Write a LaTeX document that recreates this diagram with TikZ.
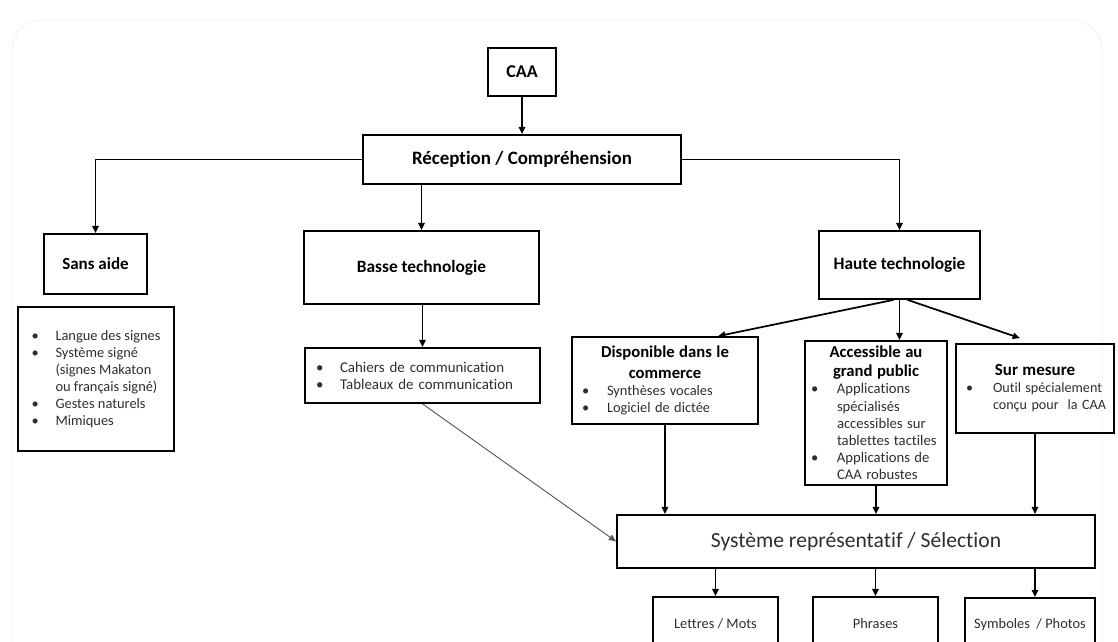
\documentclass[tikz,border=0pt]{standalone}
\usepackage{fontspec}
\setmainfont[Ligatures=NoCommon]{Carlito}
\usetikzlibrary{arrows.meta,calc}
\newcommand\bl[2][18pt]{\makebox[#1][l]{\textbullet}\mbox{#2}}
\newcommand\cl[2][18pt]{\hspace*{#1}\mbox{#2}}
\begin{document}
\begin{tikzpicture}[x=0.75pt,y=-0.75pt,
  box/.style={draw, line width=1.3pt, inner sep=0pt, text=black!82},
  ttl/.style={font=\bfseries\fontsize{13}{15.5}\selectfont, text=black},
  bul/.style={font=\fontsize{10.8}{12.75}\selectfont},
  arr/.style={line width=1.3pt, -{Triangle[length=5.5pt,width=4.8pt]}},
  thinarr/.style={line width=0.7pt, draw=black!65, -{Triangle[length=5.5pt,width=4.5pt]}}]
\useasboundingbox (0,0) rectangle (1118,642);
\clip (0,0) rectangle (1118,642);
\draw[black!6, line width=0.6pt, rounded corners=22pt] (12,20) rectangle (1102,680);

\node[box, ttl, font=\bfseries\fontsize{13.5}{16}\selectfont, minimum width=51pt, minimum height=36pt] (caa) at (522,72) {CAA};
\node[box, ttl, font=\bfseries\fontsize{14.2}{16}\selectfont, minimum width=238.5pt, minimum height=36.75pt] (rec) at (522,159.5) {Réception / Compréhension};

\node[box, ttl, font=\bfseries\fontsize{12.75}{15}\selectfont, minimum width=77.25pt, minimum height=45pt] (sans) at (95.5,264) {Sans aide};
\node[box, bul, align=left, minimum width=117pt, minimum height=108pt] (signs) at (96,379)
  {\bl{Langue des signes}\\ \bl{Système signé}\\ \cl{(signes Makaton}\\ \cl{ou français signé)}\\ \bl{Gestes naturels}\\ \bl{Mimiques}};

\node[box, ttl, minimum width=176.25pt, minimum height=54.75pt] (basse) at (421.5,267.5) {Basse technologie};
\node[box, font=\fontsize{11.2}{12.75}\selectfont, align=left, text width=159.75pt, minimum width=176.25pt, minimum height=41.25pt] (cah) at (422.5,375.5)
  {\bl{Cahiers de communication}\\ \bl{Tableaux de communication}};

\node[box, ttl, minimum width=120.75pt, minimum height=51pt] (haute) at (899.5,265) {Haute technologie};

\node[box, text width=124.5pt, minimum width=139.5pt, minimum height=65.25pt] (dispo) at (665,380.5)
  {{\centering\bfseries\color{black}\fontsize{12.5}{15.5}\selectfont Disponible dans le\\ commerce\par}%
   {\raggedright\fontsize{10.8}{12.75}\selectfont \bl[18.75pt]{Synthèses vocales}\\ \bl[18.75pt]{Logiciel de dictée}\par}};

\node[box, text width=97.5pt, minimum width=106.5pt, minimum height=108pt] (access) at (876,413)
  {{\centering\bfseries\color{black}\fontsize{12.5}{14.25}\selectfont Accessible au\\ grand public\par}%
   {\raggedright\fontsize{11}{12.9}\selectfont \bl[19.5pt]{Applications}\\ \cl[19.5pt]{spécialisés}\\ \cl[19.5pt]{accessibles sur}\\ \cl[19.5pt]{tablettes tactiles}\\ \bl[19.5pt]{Applications de}\\ \cl[19.5pt]{CAA robustes}\par}};

\node[box, text width=103.5pt, minimum width=118.5pt, minimum height=66.75pt] (sur) at (1035,388.5)
  {{\centering\bfseries\color{black}\fontsize{12.75}{15}\selectfont Sur mesure\par}%
   {\raggedright\fontsize{10.6}{12.75}\selectfont \bl[20.25pt]{Outil spécialement}\\ \cl[20.25pt]{conçu pour\ \ la CAA}\par}};

\node[box, font=\fontsize{16.2}{19}\selectfont, minimum width=358.5pt, minimum height=39.75pt] (sys) at (856,541.5) {Système représentatif / Sélection};

\node[box, font=\fontsize{10.8}{12}\selectfont, minimum width=93.75pt, minimum height=39.75pt] (let) at (715.5,623.5) {Lettres / Mots};
\node[box, font=\fontsize{10.8}{12}\selectfont, minimum width=93.75pt, minimum height=39.75pt] (phr) at (875.5,623.5) {Phrases};
\node[box, font=\fontsize{10.8}{12}\selectfont, minimum width=97.5pt, minimum height=39.75pt] (symb) at (1030,624.5) {Symboles\ \ / Photos};

\draw[arr] (caa.south) -- (caa.south |- rec.north);
\draw[arr] (rec.west) -| (sans.north);
\draw[arr] (rec.east) -| (haute.north);
\draw[arr] (rec.south -| basse.north) -- (basse.north);
\draw[arr] (basse.south -| cah.north) -- (cah.north);
\draw[thinarr] (cah.south) -- (sys.west);
\draw[arr] ($(haute.south)+(-6,0)$) -- ($(dispo.north)+(53,0)$);
\draw[arr] (haute.south) -- (haute.south |- access.north);
\draw[arr] ($(haute.south)+(8,0)$) -- ($(sur.north)+(-15,-5)$);
\draw[arr] (dispo.south) -- (dispo.south |- sys.north);
\draw[arr] (access.south) -- (access.south |- sys.north);
\draw[arr] (sur.south) -- (sur.south |- sys.north);
\draw[arr] (sys.south -| let.north) -- (let.north);
\draw[arr] (sys.south -| phr.north) -- (phr.north);
\draw[arr] (sys.south -| sur.south) -- (sur.south |- symb.north);
\end{tikzpicture}
\end{document}
